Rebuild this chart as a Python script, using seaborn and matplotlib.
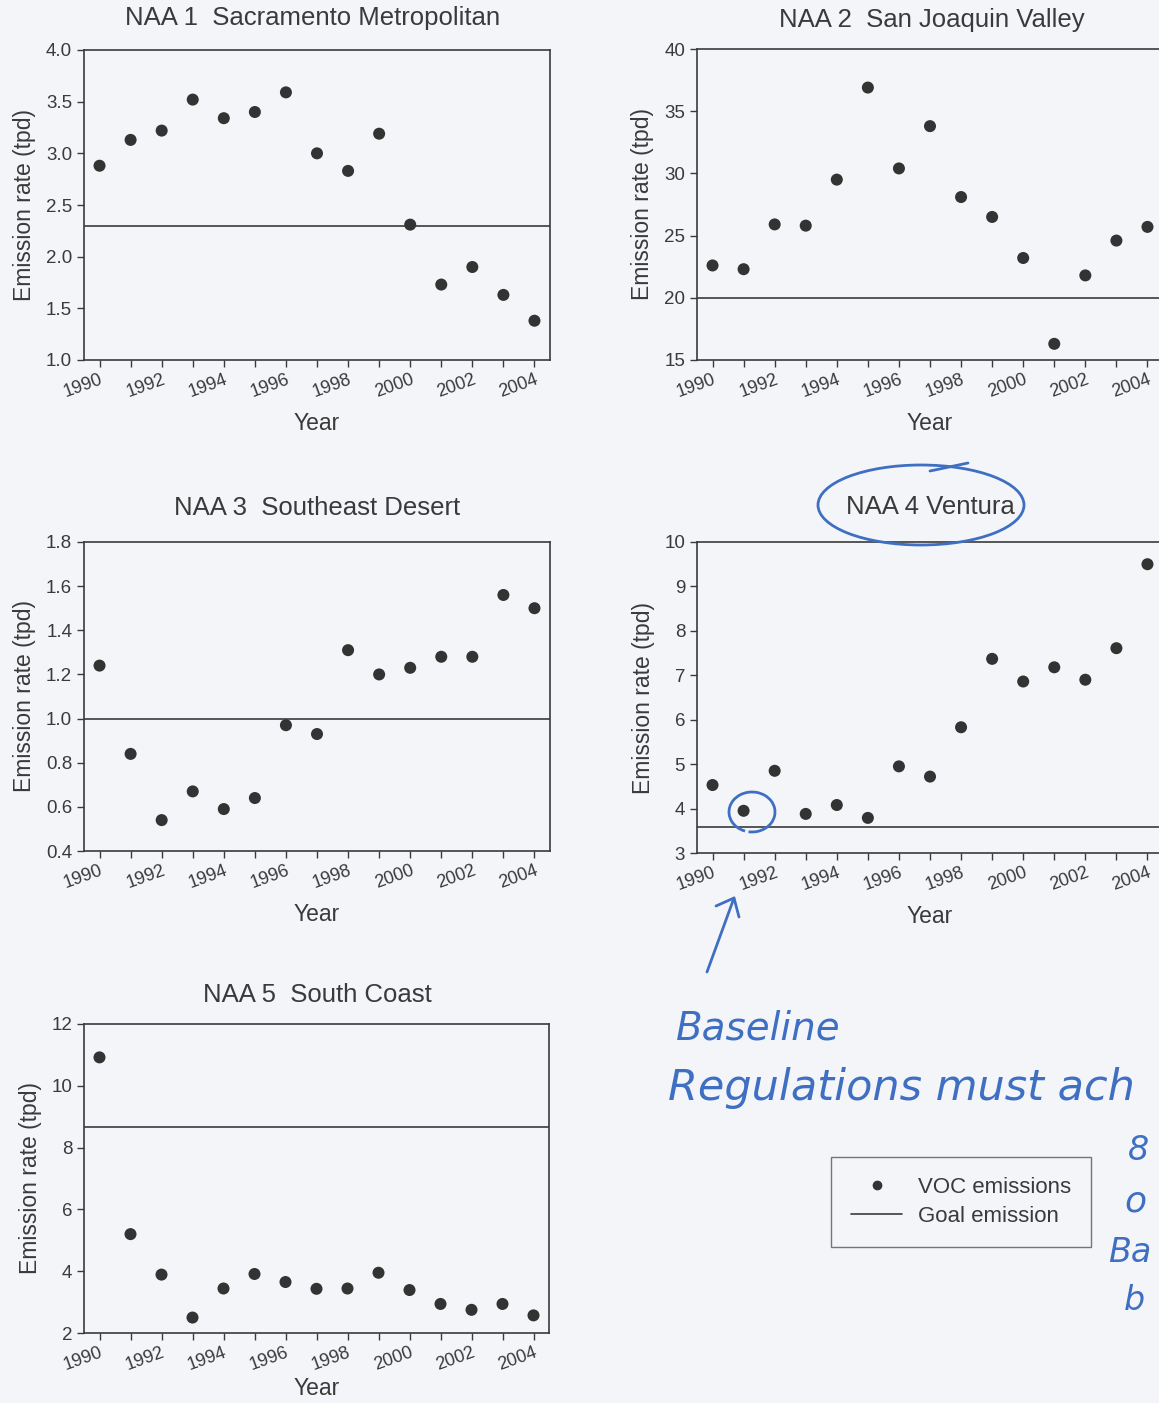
import matplotlib
matplotlib.use("Agg")
import matplotlib.pyplot as plt
import seaborn as sns
import numpy as np
import pandas as pd
from matplotlib.patches import Ellipse, Arc
from matplotlib.lines import Line2D
from matplotlib.ticker import MultipleLocator

# ---------------- data ----------------
years = list(range(1990, 2005))
titles = ["NAA 1  Sacramento Metropolitan", "NAA 2  San Joaquin Valley",
          "NAA 3  Southeast Desert", "NAA 4 Ventura", "NAA 5  South Coast"]
naa1 = [2.88, 3.13, 3.22, 3.52, 3.34, 3.40, 3.59, 3.00, 2.83, 3.19, 2.31, 1.73, 1.90, 1.63, 1.38]
naa2 = [22.6, 22.3, 25.9, 25.8, 29.5, 36.9, 30.4, 33.8, 28.1, 26.5, 23.2, 16.3, 21.8, 24.6, 25.7]
naa3 = [1.24, 0.84, 0.54, 0.67, 0.59, 0.64, 0.97, 0.93, 1.31, 1.20, 1.23, 1.28, 1.28, 1.56, 1.50]
naa4 = [4.53, 3.95, 4.85, 3.88, 4.08, 3.79, 4.95, 4.72, 5.83, 7.37, 6.86, 7.18, 6.90, 7.61, 9.50]
naa5 = [10.92, 5.20, 3.89, 2.50, 3.44, 3.91, 3.65, 3.43, 3.44, 3.95, 3.39, 2.94, 2.75, 2.94, 2.57]
goals = [2.30, 20.0, 1.0, 3.58, 8.68]
ylims = [(1.0, 4.0), (15, 40), (0.4, 1.8), (3, 10), (2, 12)]
ysteps = [0.5, 5, 0.2, 1, 2]
yfmt = ["{:.1f}", "{:.0f}", "{:.1f}", "{:.0f}", "{:.0f}"]
series = [naa1, naa2, naa3, naa4, naa5]
legend_labels = ["VOC emissions", "Goal emission"]

# ---------------- style ----------------
W, H = 1159, 1403
BG = "#f4f5f9"
INK = "#3a3a3a"
BLUE = "#3f6fc2"
sns.set_theme(style="white")
plt.rcParams["font.family"] = ["Liberation Sans", "DejaVu Sans"]

fig = plt.figure(figsize=(W / 100, H / 100), dpi=100, facecolor=BG)

# axes boxes in pixels: (left, top, right, bottom)
boxes = [(84, 50, 550, 360), (697, 49, 1163, 360), (84, 542, 550, 851),
         (697, 542, 1163, 853), (84, 1024, 549, 1333)]
title_pos = [(313, 18), (932, 20), (317, 508), (930, 507), (317, 995)]
xlabel_pads = [8, 8, 8, 8, 2]

axes = []
for i, (l, t, r, b) in enumerate(boxes):
    ax = fig.add_axes([l / W, 1 - b / H, (r - l) / W, (b - t) / H])
    ax.set_facecolor(BG)
    df = pd.DataFrame({"Year": years, "Emission": series[i]})
    sns.scatterplot(data=df, x="Year", y="Emission", ax=ax, color="#333333",
                    s=75, edgecolor="none", zorder=3)
    ax.axhline(goals[i], color=INK, lw=1.2, zorder=2)
    ax.set_xlim(1989.5, 2004.5)
    ax.set_ylim(*ylims[i])
    ax.xaxis.set_minor_locator(MultipleLocator(1))
    ax.set_xticks(years[::2])
    ax.set_xticklabels([str(y) for y in years[::2]], rotation=20, ha="right",
                       va="top", rotation_mode="anchor", fontsize=13, color=INK)
    yt = np.arange(ylims[i][0], ylims[i][1] + ysteps[i] / 2, ysteps[i])
    ax.set_yticks(yt)
    ax.set_yticklabels([yfmt[i].format(v) for v in yt], fontsize=13.5, color=INK)
    ax.tick_params(axis="both", which="both", direction="out", length=5,
                   width=1, color=INK, bottom=True, left=True)
    ax.tick_params(axis="x", which="major", pad=3)
    for sp in ax.spines.values():
        sp.set_color(INK)
        sp.set_linewidth(1.2)
    ax.set_xlabel("Year", fontsize=16.5, color=INK, labelpad=xlabel_pads[i])
    ax.set_ylabel("Emission rate (tpd)", fontsize=16.5, color=INK, labelpad=7)
    fig.text(title_pos[i][0] / W, 1 - title_pos[i][1] / H, titles[i],
             ha="center", va="center", fontsize=18.5, color=INK)
    axes.append(ax)

# legend
handles = [Line2D([], [], marker="o", ls="none", color="#333333", markersize=6),
           Line2D([], [], color=INK, lw=1.2)]
leg = fig.legend(handles, legend_labels, loc="upper left",
                 bbox_to_anchor=(831 / W, 1 - 1157 / H), borderaxespad=0,
                 fontsize=16, frameon=True, fancybox=False, edgecolor="#555555",
                 facecolor=BG, borderpad=0.9, handlelength=2.3,
                 labelspacing=0.35, handletextpad=0.7)
leg.get_frame().set_linewidth(1.0)
for t in leg.get_texts():
    t.set_color(INK)

# handwritten annotations overlay (pixel coordinates)
ov = fig.add_axes([0, 0, 1, 1], facecolor="none")
ov.set_xlim(0, W)
ov.set_ylim(H, 0)
ov.axis("off")
ov.add_patch(Ellipse((921, 505), 206, 80, fill=False, ec=BLUE, lw=2))
ov.plot([930, 968], [471, 463], color=BLUE, lw=2)
ov.add_patch(Arc((752, 812), 46, 40, theta1=-250, theta2=100, ec=BLUE, lw=2))
ov.plot([707, 734], [972, 898], color=BLUE, lw=2)
ov.plot([716, 734, 739], [906, 898, 917], color=BLUE, lw=2)
hand = dict(color=BLUE, fontstyle="italic", family=["DejaVu Sans"], ha="left",
            va="baseline")
ov.text(676, 1040, "Baseline", fontsize=28, **hand)
ov.text(668, 1100, "Regulations must ach", fontsize=31, **hand)
ov.text(1128, 1160, "8", fontsize=24, **hand)
ov.text(1124, 1212, "o", fontsize=26, **hand)
ov.text(1108, 1262, "Ba", fontsize=24, **hand)
ov.text(1124, 1310, "b", fontsize=24, **hand)

fig.savefig("out.png", dpi=100, facecolor=BG)
